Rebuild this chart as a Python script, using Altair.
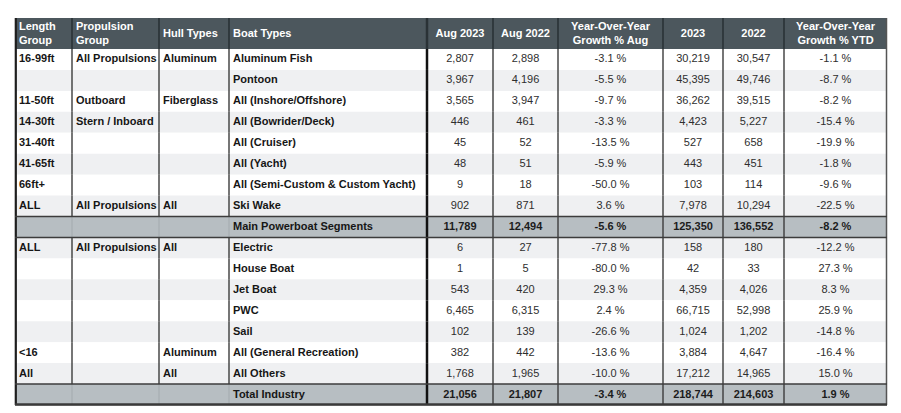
import altair as alt
import pandas as pd

# ---------------- data ----------------
length_group = ["16-99ft", "", "11-50ft", "14-30ft", "31-40ft", "41-65ft", "66ft+", "ALL", "",
                "ALL", "", "", "", "", "<16", "All", ""]
propulsion = ["All Propulsions", "", "Outboard", "Stern / Inboard", "", "", "", "All Propulsions", "",
              "All Propulsions", "", "", "", "", "", "", ""]
hull_types = ["Aluminum", "", "Fiberglass", "", "", "", "", "All", "",
              "All", "", "", "", "", "Aluminum", "All", ""]
boat_types = ["Aluminum Fish", "Pontoon", "All (Inshore/Offshore)", "All (Bowrider/Deck)", "All (Cruiser)",
              "All (Yacht)", "All (Semi-Custom & Custom Yacht)", "Ski Wake", "Main Powerboat Segments",
              "Electric", "House Boat", "Jet Boat", "PWC", "Sail", "All (General Recreation)", "All Others",
              "Total Industry"]
aug_2023 = [2807, 3967, 3565, 446, 45, 48, 9, 902, 11789, 6, 1, 543, 6465, 102, 382, 1768, 21056]
aug_2022 = [2898, 4196, 3947, 461, 52, 51, 18, 871, 12494, 27, 5, 420, 6315, 139, 442, 1965, 21807]
yoy_aug = [-3.1, -5.5, -9.7, -3.3, -13.5, -5.9, -50.0, 3.6, -5.6, -77.8, -80.0, 29.3, 2.4, -26.6, -13.6, -10.0, -3.4]
ytd_2023 = [30219, 45395, 36262, 4423, 527, 443, 103, 7978, 125350, 158, 42, 4359, 66715, 1024, 3884, 17212, 218744]
ytd_2022 = [30547, 49746, 39515, 5227, 658, 451, 114, 10294, 136552, 180, 33, 4026, 52998, 1202, 4647, 14965, 214603]
yoy_ytd = [-1.1, -8.7, -8.2, -15.4, -19.9, -1.8, -9.6, -22.5, -8.2, -12.2, 27.3, 8.3, 25.9, -14.8, -16.4, 15.0, 1.9]
summary_rows = [8, 16]
headers = [["Length", "Group"], ["Propulsion", "Group"], ["Hull Types"], ["Boat Types"], ["Aug 2023"],
           ["Aug 2022"], ["Year-Over-Year", "Growth % Aug"], ["2023"], ["2022"],
           ["Year-Over-Year", "Growth % YTD"]]

# ---------------- layout ----------------
col_widths = [57, 87, 70, 198, 66, 65, 105, 60, 61, 103]
TOTAL_W = sum(col_widths)
HEADER_H = 31
TOTAL_H = 387
LINE_GAP = 14
n_rows = len(boat_types)
ROW_H = (TOTAL_H - HEADER_H) / n_rows

col_left = [sum(col_widths[:i]) for i in range(len(col_widths))]
col_center = [col_left[i] + col_widths[i] / 2 for i in range(len(col_widths))]

def row_top(i):
    return HEADER_H + i * ROW_H

def fmt_int(v):
    return f"{v:,}"

def fmt_pct(v):
    return f"{v:.1f} %"

HEADER_BG = "#4c575d"
SUMMARY_BG = "#b7bec2"
ALT_BG = "#eff0f2"
WHITE = "#ffffff"

# backgrounds
bg = [{"x0": 0, "x1": TOTAL_W, "y0": 0, "y1": HEADER_H, "c": HEADER_BG}]
for i in range(n_rows):
    if i in summary_rows:
        c = SUMMARY_BG
    elif i % 2 == 1:
        c = ALT_BG
    else:
        c = WHITE
    bg.append({"x0": 0, "x1": TOTAL_W, "y0": row_top(i), "y1": row_top(i + 1), "c": c})
bg_df = pd.DataFrame(bg)

# vertical lines
vl = []
bounds = [col_left[i] for i in range(1, len(col_widths))]
vl.append({"x": 0.8, "y0": 0, "y1": TOTAL_H, "c": "#1e1e1e", "w": 2.2})
vl.append({"x": TOTAL_W - 0.5, "y0": 0, "y1": TOTAL_H, "c": "#555555", "w": 1.5})
for bi, bx in enumerate(bounds):
    idx = bi + 1
    thick = idx == 4
    vl.append({"x": bx, "y0": 0, "y1": HEADER_H, "c": "#2a3236", "w": 2.5 if thick else 1.6})
    for i in range(n_rows):
        if i in summary_rows and idx in (1, 2, 3):
            c, w = "#a3aaae", 1.0
        elif thick:
            c, w = "#111111", 2.5
        else:
            c, w = "#3c3c3c", 1.4
        vl.append({"x": bx, "y0": row_top(i), "y1": row_top(i + 1), "c": c, "w": w})
vl_df = pd.DataFrame(vl)

# horizontal lines
hl = []
for s in summary_rows:
    hl.append({"y": row_top(s), "c": "#3c3c3c", "w": 1.6})
    hl.append({"y": row_top(s + 1), "c": "#3c3c3c", "w": 1.6})
hl_df = pd.DataFrame(hl)
hl_df["x0"] = 0
hl_df["x1"] = TOTAL_W

# text cells
left_cells, center_norm, center_bold = [], [], []
for c in range(10):
    lines = headers[c]
    n = len(lines)
    for k, ln in enumerate(lines):
        yy = HEADER_H / 2 + (k - (n - 1) / 2) * LINE_GAP
        if c < 4:
            left_cells.append({"x": col_left[c] + 4, "y": yy, "t": ln, "c": "#ffffff"})
        else:
            center_bold.append({"x": col_center[c], "y": yy, "t": ln, "c": "#ffffff"})
left_cols = [length_group, propulsion, hull_types, boat_types]
num_cols = [(aug_2023, fmt_int), (aug_2022, fmt_int), (yoy_aug, fmt_pct),
            (ytd_2023, fmt_int), (ytd_2022, fmt_int), (yoy_ytd, fmt_pct)]
for i in range(n_rows):
    yc = row_top(i) + ROW_H / 2
    for c, arr in enumerate(left_cols):
        if arr[i]:
            left_cells.append({"x": col_left[c] + 4, "y": yc, "t": arr[i], "c": "#161616"})
    for k, (arr, f) in enumerate(num_cols):
        c = 4 + k
        rec = {"x": col_center[c], "y": yc, "t": f(arr[i]), "c": "#1c1c1c"}
        if i in summary_rows:
            center_bold.append(rec)
        else:
            rec["c"] = "#2e2e2e"
            center_norm.append(rec)
left_df = pd.DataFrame(left_cells)
cn_df = pd.DataFrame(center_norm)
cb_df = pd.DataFrame(center_bold)

xs = alt.Scale(domain=[0, TOTAL_W], nice=False, zero=False)
ys = alt.Scale(domain=[0, TOTAL_H], nice=False, zero=False, reverse=True)
FONT = "Liberation Sans"

rects = alt.Chart(bg_df).mark_rect().encode(
    x=alt.X("x0:Q", scale=xs, axis=None), x2="x1:Q",
    y=alt.Y("y0:Q", scale=ys, axis=None), y2="y1:Q",
    color=alt.Color("c:N", scale=None),
)
vrules = alt.Chart(vl_df).mark_rule().encode(
    x=alt.X("x:Q", scale=xs, axis=None),
    y=alt.Y("y0:Q", scale=ys, axis=None), y2="y1:Q",
    color=alt.Color("c:N", scale=None),
    size=alt.Size("w:Q", scale=None),
)
hrules = alt.Chart(hl_df).mark_rule().encode(
    x=alt.X("x0:Q", scale=xs, axis=None), x2="x1:Q",
    y=alt.Y("y:Q", scale=ys, axis=None),
    color=alt.Color("c:N", scale=None),
    size=alt.Size("w:Q", scale=None),
)
bottom = alt.Chart(pd.DataFrame({"y": [TOTAL_H - 0.8]})).mark_rule(color="#3a3a3a", strokeWidth=2).encode(
    x=alt.value(0), x2=alt.value(TOTAL_W),
    y=alt.Y("y:Q", scale=ys, axis=None),
)

t_left = alt.Chart(left_df).mark_text(
    align="left", baseline="middle", font=FONT, fontSize=11, fontWeight="bold"
).encode(
    x=alt.X("x:Q", scale=xs, axis=None), y=alt.Y("y:Q", scale=ys, axis=None),
    text="t:N", color=alt.Color("c:N", scale=None),
)
t_cn = alt.Chart(cn_df).mark_text(
    align="center", baseline="middle", font=FONT, fontSize=11, fontWeight="normal"
).encode(
    x=alt.X("x:Q", scale=xs, axis=None), y=alt.Y("y:Q", scale=ys, axis=None),
    text="t:N", color=alt.Color("c:N", scale=None),
)
t_cb = alt.Chart(cb_df).mark_text(
    align="center", baseline="middle", font=FONT, fontSize=11, fontWeight="bold"
).encode(
    x=alt.X("x:Q", scale=xs, axis=None), y=alt.Y("y:Q", scale=ys, axis=None),
    text="t:N", color=alt.Color("c:N", scale=None),
)

chart = alt.layer(rects, vrules, hrules, bottom, t_left, t_cn, t_cb).properties(
    width=TOTAL_W, height=TOTAL_H,
    padding={"left": 6, "top": 8, "right": 5, "bottom": 5},
).configure_view(strokeWidth=0)

chart.save("out.html", embed_options={"renderer": "svg", "actions": False})
